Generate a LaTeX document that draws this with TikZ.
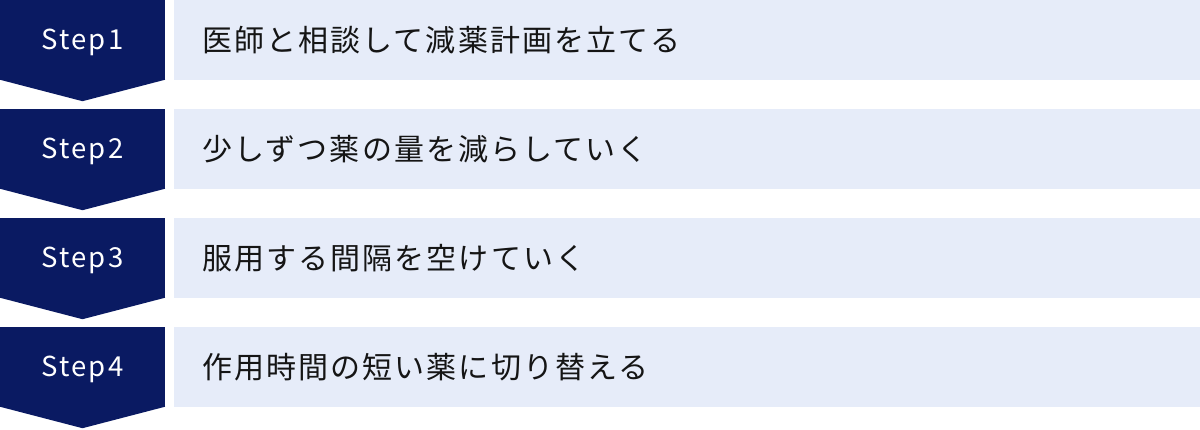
\documentclass[tikz,border=0pt]{standalone}
\usepackage{fontspec}
\newfontfamily\jpfont[LetterSpace=7]{Noto Sans CJK JP}
\newfontfamily\stepfont[LetterSpace=8]{Noto Sans CJK JP}
\usepackage{tikz}
\usetikzlibrary{positioning,calc}
\definecolor{stepnavy}{HTML}{0A1A62}
\definecolor{taskblue}{HTML}{E6ECF9}
\definecolor{taskink}{HTML}{151515}

\begin{document}
\begin{tikzpicture}[
    x=1pt, y=1pt,
    stepbox/.style={fill=stepnavy, text=white, minimum width=165pt, minimum height=80pt, inner sep=0pt, text height=21pt, text depth=1.2pt, font=\stepfont\fontsize{27.5}{30}\selectfont},
    stepdown/.style={fill=stepnavy},
    task/.style={fill=taskblue, text=taskink, anchor=west, minimum height=80pt, text width=970pt, inner xsep=28pt, inner ysep=0pt, text height=24pt, text depth=1.2pt, align=left, font=\jpfont\fontsize{30}{34}\selectfont}
]
    \useasboundingbox (0,0) rectangle (1200,-429);

    % === STEPS ===
    \node[stepbox] (step1) at (82.5,-40) {Step1};
    \node[stepbox] (step2) at (82.5,-149) {Step2};
    \node[stepbox] (step3) at (82.5,-258) {Step3};
    \node[stepbox] (step4) at (82.5,-367) {Step4};

    % === TASKS ===
    \node[task] (task1) at (174,-40) {医師と相談して減薬計画を立てる};
    \node[task] (task2) at (174,-149) {少しずつ薬の量を減らしていく};
    \node[task] (task3) at (174,-258) {服用する間隔を空けていく};
    \node[task] (task4) at (174,-367) {作用時間の短い薬に切り替える};

    % Arrow tips below the steps
    \fill[stepdown] ($(step1.south west)+(0,0.5)$) -- ($(step1.south east)+(0,0.5)$) -- ($(step1.south)+(0,-21)$) -- cycle;
    \fill[stepdown] ($(step2.south west)+(0,0.5)$) -- ($(step2.south east)+(0,0.5)$) -- ($(step2.south)+(0,-21)$) -- cycle;
    \fill[stepdown] ($(step3.south west)+(0,0.5)$) -- ($(step3.south east)+(0,0.5)$) -- ($(step3.south)+(0,-21)$) -- cycle;
    \fill[stepdown] ($(step4.south west)+(0,0.5)$) -- ($(step4.south east)+(0,0.5)$) -- ($(step4.south)+(0,-21)$) -- cycle;

\end{tikzpicture}
\end{document}
